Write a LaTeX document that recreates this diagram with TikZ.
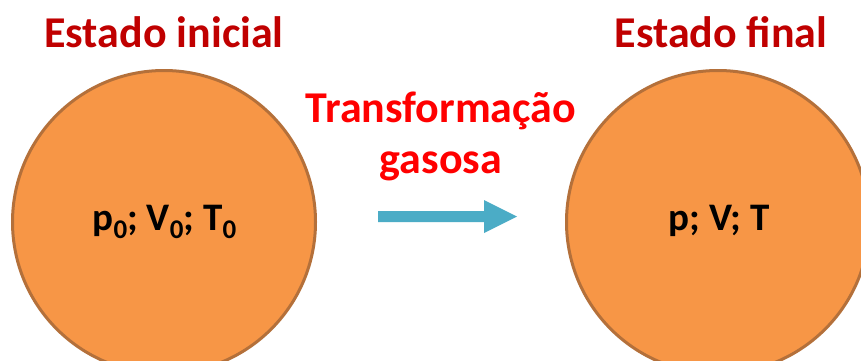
\documentclass[tikz,border=0pt]{standalone}
\usepackage{fontspec}
\setmainfont{Carlito}
\definecolor{ballfill}{HTML}{F79646}
\definecolor{balledge}{HTML}{B4703A}
\definecolor{titlered}{HTML}{C00000}
\definecolor{brightred}{HTML}{FF0000}
\definecolor{arrowblue}{HTML}{4BACC6}
\newcommand\subz[1]{\raisebox{-8.5pt}{\fontsize{27}{27}\selectfont #1}}
\tikzset{
  ball/.style={circle, draw=balledge, fill=ballfill, line width=3pt, minimum size=303pt, inner sep=0pt},
  titletext/.style={anchor=base, inner sep=0pt, text=titlered, font=\fontsize{44}{48}\selectfont\bfseries},
  transtext/.style={anchor=base, inner sep=0pt, text=brightred, font=\fontsize{44}{48}\selectfont\bfseries},
  inner/.style={anchor=base, inner sep=0pt, text=black, font=\fontsize{39}{43}\selectfont\bfseries},
}
\begin{document}
\begin{tikzpicture}[x=1pt,y=-1pt]
\useasboundingbox (0,0) rectangle (861,360);
\clip (0,0) rectangle (861,360);
\fill[white] (0,0) rectangle (861,360);
\node[ball] (left) at (164,222) {};
\node[ball] (right) at (718,222) {};
\node[titletext] (t1) at (164,47) {Estado inicial};
\node[titletext] (t2) at (721,47) {Estado final};
\node[transtext] (tr1) at (441,122) {Transformação};
\node[transtext] (tr2) at (441,173) {gasosa};
\node[inner] (s1) at (164.5,230) {p\subz{0}; V\subz{0}; T\subz{0}};
\node[inner] (s2) at (719,230) {p; V; T};
\fill[arrowblue] (378,211) -- (484,211) -- (484,200) -- (517,216.5) -- (484,233) -- (484,222) -- (378,222) -- cycle;
\end{tikzpicture}
\end{document}
